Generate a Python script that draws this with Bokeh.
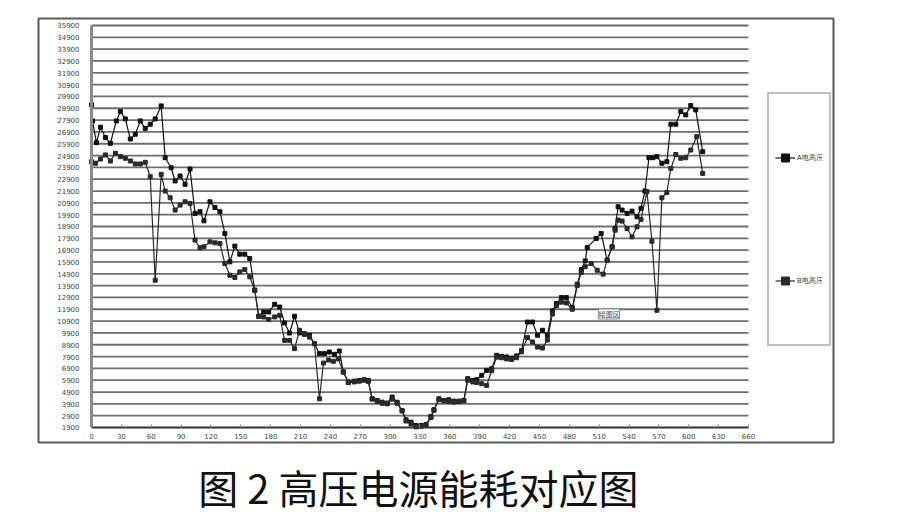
from bokeh.plotting import figure
from bokeh.layouts import column
from bokeh.models import FixedTicker, Label, Legend, LegendItem, Range1d
from bokeh.embed import file_html
from bokeh.resources import INLINE

x_ticks = list(range(0, 661, 30))
y_ticks = list(range(1900, 35901, 1000))

xa = [0, 1, 5, 9, 14, 19, 25, 29, 34, 39, 44, 49, 54, 59, 64, 70, 74, 80, 84, 89, 94, 99,
      104, 109, 113, 119, 124, 129, 134, 139, 144, 149, 154, 159, 164, 168, 173, 178, 184,
      189, 194, 199, 204, 209, 214, 219, 224, 229, 234, 239, 244, 249, 253, 258, 264, 269,
      274, 278, 282, 287, 292, 297, 302, 307, 312, 316, 321, 326, 331, 336, 341, 344, 349,
      354, 359, 364, 369, 374, 378, 383, 387, 392, 397, 402, 407, 412, 417, 422, 427, 432,
      438, 443, 448, 453, 458, 463, 467, 472, 477, 483, 488, 492, 496, 498, 507, 512, 518,
      523, 526, 529, 533, 538, 543, 548, 552, 556, 560, 564, 568, 573, 578, 582, 587, 592,
      597, 602, 607, 614]
a_vals = [29190, 27830, 25990, 27300, 26420, 25940, 27830, 28620, 28000, 26300, 26700, 27830,
          27200, 27550, 28000, 29100, 24720, 23870, 22750, 23170, 22470, 23760, 20010, 20150,
          19380, 20990, 20510, 20150, 18310, 15910, 17240, 16560, 16560, 16200, 13510, 11310,
          11670, 11670, 12320, 12090, 10740, 9890, 11310, 9900, 9780, 9700, 8990, 8150, 8150,
          8280, 8090, 8370, 6590, 5740, 5820, 5880, 5940, 5880, 4330, 4190, 4040, 3960, 4470,
          4040, 3340, 2550, 2350, 2070, 2070, 2150, 2830, 3400, 4330, 4190, 4240, 4130, 4130,
          4190, 6030, 5880, 5940, 6310, 6730, 6870, 8000, 7920, 7860, 7760, 7950, 8400, 10820,
          10820, 9700, 10120, 9700, 11760, 12380, 12890, 12890, 12040, 14020, 15260, 15990,
          17130, 17890, 18310, 16050, 17180, 18730, 20570, 20290, 20010, 20200, 19720, 20430,
          21900, 24720, 24720, 24810, 24250, 24380, 27550, 27550, 28620, 28340, 29130, 28760,
          25230]

xb = [0, 4, 9, 14, 19, 24, 29, 34, 39, 44, 49, 54, 59, 64, 70, 74, 79, 84, 89, 94, 99, 104,
      109, 113, 119, 124, 129, 134, 139, 144, 149, 154, 159, 164, 168, 173, 178, 184, 189,
      194, 199, 204, 209, 214, 219, 224, 229, 233, 238, 243, 248, 253, 258, 264, 269, 274,
      278, 282, 287, 292, 297, 302, 307, 312, 316, 321, 326, 331, 336, 341, 344, 349, 354,
      359, 364, 369, 374, 378, 383, 387, 392, 397, 402, 407, 412, 417, 422, 427, 432, 438,
      443, 448, 453, 458, 463, 467, 472, 477, 483, 488, 492, 496, 502, 508, 514, 518, 523,
      526, 529, 533, 538, 543, 548, 552, 558, 563, 568, 573, 578, 582, 587, 592, 597, 602,
      608, 614]
b_vals = [24380, 24250, 24610, 24950, 24440, 25100, 24810, 24670, 24440, 24190, 24190, 24330,
          23110, 14360, 23310, 21900, 21330, 20290, 20710, 20990, 20850, 17750, 17100, 17180,
          17600, 17520, 17460, 15770, 14780, 14590, 15060, 15260, 14640, 13510, 11310, 11250,
          11030, 11250, 11390, 9270, 9270, 8570, 10120, 9840, 9550, 8990, 4330, 7350, 7600,
          7500, 7700, 6590, 5700, 5750, 5820, 5900, 5800, 4300, 4100, 3950, 3900, 4300, 3950,
          3300, 2450, 2200, 1950, 2000, 2100, 2750, 3350, 4250, 4150, 4100, 4050, 4100, 4150,
          5900, 5750, 5700, 5600, 5460, 6700, 7850, 7800, 7700, 7650, 7800, 8300, 9500, 9130,
          8700, 8620, 9300, 11500, 12200, 12500, 12440, 11900, 13900, 15000, 15500, 15770,
          15200, 14870, 16050, 17180, 18590, 19440, 19360, 18730, 18030, 18870, 19500, 21840,
          17660, 11810, 21330, 21780, 23810, 24990, 24670, 24720, 25370, 26500, 23390]

series_names = ["A电高压", "B电高压"]
caption = "图 2 高压电源能耗对应图"

W = 900
p = figure(width=W, height=458,
           x_range=Range1d(-53.24, 745.4), y_range=Range1d(631, 36492),
           output_backend="svg", toolbar_location=None,
           min_border_left=38, min_border_right=67, min_border_top=18, min_border_bottom=16)
p.outline_line_color = "#5a5a5a"
p.outline_line_width = 2
p.background_fill_color = "white"
p.border_fill_color = "white"
p.grid.visible = False

# horizontal grid lines over the plot area only
p.segment(x0=x_ticks[0], x1=x_ticks[-1], y0=y_ticks, y1=y_ticks,
          line_color="#6e6e6e", line_width=1.8)

p.xaxis.ticker = FixedTicker(ticks=x_ticks)
p.yaxis.ticker = FixedTicker(ticks=y_ticks)
p.xaxis.fixed_location = y_ticks[0]
p.yaxis.fixed_location = x_ticks[0]
p.xaxis.bounds = (x_ticks[0], x_ticks[-1])
p.yaxis.bounds = (y_ticks[0], y_ticks[-1])

for ax in (p.xaxis, p.yaxis):
    ax.major_label_text_font = "DejaVu Sans"
    ax.major_label_text_font_size = "7px"
    ax.major_label_text_color = "#444444"
    ax.minor_tick_line_color = None

p.yaxis.axis_line_color = "#8a8a8a"
p.yaxis.axis_line_width = 3
p.yaxis.major_tick_line_color = None
p.yaxis.major_label_standoff = 6
p.xaxis.axis_line_color = "#333333"
p.xaxis.axis_line_width = 1.5
p.xaxis.major_tick_in = 3
p.xaxis.major_tick_out = 0
p.xaxis.major_tick_line_color = "#888888"
p.xaxis.major_label_standoff = 6

la = p.line(xa, a_vals, line_color="#111111", line_width=1.2)
sa = p.scatter(xa, a_vals, marker="square", size=4, color="#111111")
lb = p.line(xb, b_vals, line_color="#2a2a2a", line_width=1.2)
sb = p.scatter(xb, b_vals, marker="square", size=4, color="#2a2a2a")

legend = Legend(items=[LegendItem(label=series_names[0], renderers=[la, sa]),
                       LegendItem(label=series_names[1], renderers=[lb, sb])],
                location=(729, 96), orientation="vertical",
                glyph_width=20, glyph_height=115, label_height=115,
                padding=6, spacing=8, label_standoff=2, margin=0,
                label_text_font_size="7px", label_text_color="#333333",
                border_line_color="#808080", border_line_width=2,
                background_fill_color="white", background_fill_alpha=1.0)
p.add_layout(legend, "center")

tip = Label(x=520, y=11500, text="绘图区", text_font="Noto Sans CJK SC",
            text_font_size="7px", text_align="center", text_baseline="middle",
            border_line_color="#888888", background_fill_color="white")
p.add_layout(tip)

# caption strip below the chart
CH = 54
c = figure(width=W, height=CH, x_range=Range1d(0, W), y_range=Range1d(0, CH),
           output_backend="svg", toolbar_location=None,
           min_border_left=0, min_border_right=0, min_border_top=0, min_border_bottom=0,
           x_axis_location=None, y_axis_location=None)
c.outline_line_color = None
c.grid.visible = False
cap = Label(x=430, y=26, text=caption, text_font="Noto Sans CJK SC",
            text_font_size="40px", text_color="#111111",
            text_align="center", text_baseline="middle")
c.add_layout(cap)

layout = column(p, c, spacing=0)
open("out.html", "w").write(file_html(layout, INLINE))
